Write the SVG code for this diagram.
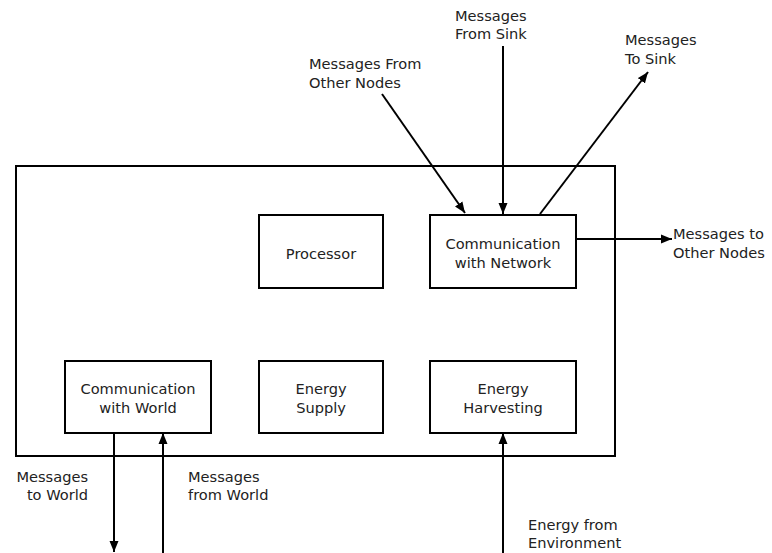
<svg xmlns="http://www.w3.org/2000/svg" width="772" height="553" viewBox="0 0 772 553">
  <style>
    .box { fill: #ffffff; stroke: #000000; stroke-width: 2; }
    .frame { fill: none; stroke: #000000; stroke-width: 2; }
    .lbl { font-family: "DejaVu Sans", "Liberation Sans", sans-serif; font-size: 14.6px; fill: #222222; }
    .mid { text-anchor: middle; }
    .end { text-anchor: end; }
    .wire { stroke: #000000; stroke-width: 2; fill: none; marker-end: url(#head); }
  </style>
  <defs>
    <marker id="head" markerUnits="userSpaceOnUse" markerWidth="12" markerHeight="10" refX="11" refY="5" orient="auto">
      <path d="M0,0.5 L11,5 L0,9.5 z" fill="#000000"/>
    </marker>
  </defs>
  <rect width="772" height="553" fill="#ffffff"/>

  <!-- sensor node boundary -->
  <rect class="frame" x="16" y="166" width="599" height="290"/>

  <g id="connectors">
    <line class="wire" x1="382" y1="94" x2="465" y2="213"/>
    <line class="wire" x1="503" y1="46" x2="503" y2="214"/>
    <line class="wire" x1="540" y1="214" x2="648" y2="72"/>
    <line class="wire" x1="577" y1="239" x2="672" y2="239"/>
    <line class="wire" x1="114" y1="433" x2="114" y2="552"/>
    <line class="wire" x1="163" y1="553" x2="163" y2="433"/>
    <line class="wire" x1="503" y1="553" x2="503" y2="433"/>
  </g>

  <g id="processor">
    <rect class="box" x="259" y="215" width="124" height="73"/>
    <text class="lbl mid" x="321" y="259">Processor</text>
  </g>
  <g id="comm-network">
    <rect class="box" x="430" y="215" width="146" height="73"/>
    <text class="lbl mid" x="503" y="249">Communication</text>
    <text class="lbl mid" x="503" y="268">with Network</text>
  </g>
  <g id="comm-world">
    <rect class="box" x="65" y="361" width="146" height="72"/>
    <text class="lbl mid" x="138" y="394">Communication</text>
    <text class="lbl mid" x="138" y="413">with World</text>
  </g>
  <g id="energy-supply">
    <rect class="box" x="259" y="361" width="124" height="72"/>
    <text class="lbl mid" x="321" y="394">Energy</text>
    <text class="lbl mid" x="321" y="413">Supply</text>
  </g>
  <g id="energy-harvesting">
    <rect class="box" x="430" y="361" width="146" height="72"/>
    <text class="lbl mid" x="503" y="394">Energy</text>
    <text class="lbl mid" x="503" y="413">Harvesting</text>
  </g>

  <g id="labels">
    <text class="lbl" x="455" y="21">Messages</text>
    <text class="lbl" x="455" y="39">From Sink</text>
    <text class="lbl" x="309" y="69">Messages From</text>
    <text class="lbl" x="309" y="88">Other Nodes</text>
    <text class="lbl" x="625" y="45">Messages</text>
    <text class="lbl" x="625" y="64">To Sink</text>
    <text class="lbl" x="673" y="239">Messages to</text>
    <text class="lbl" x="673" y="258">Other Nodes</text>
    <text class="lbl end" x="88" y="482">Messages</text>
    <text class="lbl end" x="88" y="500">to World</text>
    <text class="lbl" x="188" y="482">Messages</text>
    <text class="lbl" x="188" y="500">from World</text>
    <text class="lbl" x="528" y="530">Energy from</text>
    <text class="lbl" x="528" y="548">Environment</text>
  </g>
</svg>
